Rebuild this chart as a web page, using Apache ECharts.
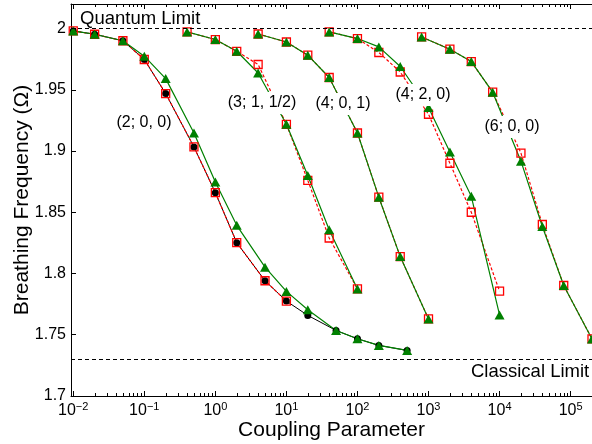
<!DOCTYPE html>
<html>
<head>
<meta charset="utf-8">
<script src="https://cdn.jsdelivr.net/npm/echarts@6/dist/echarts.min.js"></script>
<style>
html, body { margin: 0; padding: 0; background: #fff; }
#chart { width: 592px; height: 444px; }
</style>
</head>
<body>
<div id="chart"></div>
<script>
// (2; 0, 0)
var x200 = [0.01, 0.02, 0.05, 0.1, 0.2, 0.5, 1, 2, 5, 10, 20, 50, 100, 200, 500];
var black200 = [1.998, 1.9953, 1.990, 1.9747, 1.9469, 1.9033, 1.866, 1.8252, 1.7941, 1.7775, 1.7658, 1.7535, 1.7467, 1.7413, 1.7372];
var green200 = [1.998, 1.9953, 1.990, 1.9774, 1.9591, 1.9147, 1.8747, 1.8393, 1.8052, 1.7854, 1.7704, 1.7535, 1.7467, 1.7413, 1.7372];
var red200 = [1.998, 1.9953, 1.990, 1.9747, 1.9469, 1.9033, 1.866, 1.8252, 1.7941, 1.7775];

// (3; 1, 1/2)
var x311 = [0.4, 1, 2, 4, 10, 20, 40, 100];
var red311 = [1.9972, 1.991, 1.9814, 1.9706, 1.9218, 1.876, 1.829, 1.7874];
var green311 = [1.9972, 1.991, 1.9814, 1.9637, 1.9218, 1.880, 1.8357, 1.7874];

// (4; 0, 1)
var x401 = [4, 10, 20, 40, 100, 200, 400, 1000];
var red401 = [1.9955, 1.989, 1.9782, 1.960, 1.9147, 1.8623, 1.8138, 1.7629];
var green401 = [1.9955, 1.989, 1.9782, 1.960, 1.9147, 1.8623, 1.8138, 1.7629];

// (4; 2, 0)
var x420 = [40, 100, 200, 400, 1000, 2000, 4000, 10000];
var red420 = [1.9972, 1.9918, 1.9804, 1.9645, 1.930, 1.890, 1.850, 1.7856];
var green420 = [1.9972, 1.9918, 1.985, 1.969, 1.9355, 1.8992, 1.863, 1.7662];

// (6; 0, 0)
var x600 = [800, 2000, 4000, 8000, 20000, 40000, 80000, 200000];
var red600 = [1.9931, 1.9831, 1.973, 1.948, 1.8983, 1.840, 1.7902, 1.7466];
var green600 = [1.9931, 1.9831, 1.973, 1.948, 1.8917, 1.8384, 1.7902, 1.7466];

var curveNames = ['(2; 0, 0)', '(3; 1, 1/2)', '(4; 0, 1)', '(4; 2, 0)', '(6; 0, 0)'];
var quantumLimit = 2;
var classicalLimit = 1.732;

var xMin = 0.0093, xMax = 200000;
var yMin = 1.7, yMax = 2.02;
var FONT = '"Liberation Sans", Arial, Helvetica, sans-serif';

var chart = echarts.init(document.getElementById('chart'));

function pairs(xs, ys) {
    return ys.map(function (y, i) { return [xs[i], y]; });
}

function blackSeries(xs, ys) {
    return {
        type: 'line', data: pairs(xs, ys),
        symbol: 'circle', symbolSize: 7,
        itemStyle: { color: '#000' },
        lineStyle: { color: '#000', width: 1 }
    };
}
function redSeries(xs, ys) {
    return {
        type: 'line', data: pairs(xs, ys),
        symbol: 'rect', symbolSize: 8,
        itemStyle: { color: 'rgba(0,0,0,0)', borderColor: '#ff0000', borderWidth: 1.3 },
        lineStyle: { color: '#ff0000', width: 1.2, type: [3, 2] }
    };
}
function greenSeries(xs, ys) {
    return {
        type: 'line', data: pairs(xs, ys),
        symbol: 'triangle', symbolSize: [10, 9],
        itemStyle: { color: '#008000' },
        lineStyle: { color: '#008000', width: 1.2 }
    };
}

// minor ticks of the log axis (2..9 x 10^k)
var minorTicks = [];
for (var k = -2; k <= 5; k++) {
    for (var m = 2; m <= 9; m++) {
        var v = m * Math.pow(10, k);
        if (v < xMax) minorTicks.push([v, yMin]);
    }
}

var series = [
    blackSeries(x200, black200),
    redSeries(x200.slice(0, red200.length), red200),
    greenSeries(x200, green200),
    redSeries(x311, red311), greenSeries(x311, green311),
    redSeries(x401, red401), greenSeries(x401, green401),
    redSeries(x420, red420), greenSeries(x420, green420),
    redSeries(x600, red600), greenSeries(x600, green600)
];

series[0].markLine = {
    silent: true,
    symbol: ['none', 'none'],
    label: { show: false },
    lineStyle: { color: '#000', width: 1, type: [4, 3] },
    data: [{ yAxis: quantumLimit }, { yAxis: classicalLimit }]
};

series.push({
    type: 'custom',
    silent: true,
    z: 10,
    data: minorTicks,
    renderItem: function (params, api) {
        var b = api.coord([api.value(0), yMin]);
        var t = api.coord([api.value(0), yMax]);
        var px = Math.round(b[0]) + 0.5;
        return {
            type: 'group',
            children: [
                { type: 'line', shape: { x1: px, y1: b[1], x2: px, y2: b[1] - 3 }, style: { stroke: '#000', lineWidth: 1 } },
                { type: 'line', shape: { x1: px, y1: t[1], x2: px, y2: t[1] + 3 }, style: { stroke: '#000', lineWidth: 1 } }
            ]
        };
    }
});

function curveLabel(text, x, y) {
    return {
        type: 'text', z: 100, x: x, y: y,
        style: {
            text: text, font: '16px ' + FONT, fill: '#000',
            align: 'center', verticalAlign: 'middle',
            backgroundColor: '#fff', padding: [3, 3]
        }
    };
}

var option = {
    animation: false,
    backgroundColor: '#fff',
    grid: { left: 71, right: 0, top: 4, bottom: 48, containLabel: false, outerBoundsMode: 'none' },
    xAxis: [{
        type: 'log', logBase: 10, min: xMin, max: xMax,
        name: 'Coupling Parameter', nameLocation: 'middle', nameGap: 24, nameMoveOverlap: false,
        nameTextStyle: { fontSize: 21, color: '#000', fontFamily: FONT },
        axisLine: { lineStyle: { color: '#000', width: 1 } },
        axisTick: { inside: true, length: 5, lineStyle: { color: '#000' } },
        splitLine: { show: false },
        axisLabel: {
            margin: 5, color: '#000', fontFamily: FONT,
            formatter: function (val) {
                var e = Math.log10(val);
                var r = Math.round(e);
                if (Math.abs(e - r) > 1e-6) return '';
                return '{b|10}{e|' + (r < 0 ? '\u2212' + (-r) : r) + '}';
            },
            rich: {
                b: { fontSize: 16, lineHeight: 20, color: '#000', fontFamily: FONT },
                e: { fontSize: 11, lineHeight: 10, verticalAlign: 'top', color: '#000', fontFamily: FONT }
            }
        }
    }, {
        type: 'log', logBase: 10, min: xMin, max: xMax, position: 'top',
        axisLine: { lineStyle: { color: '#000', width: 1 } },
        axisTick: { inside: true, length: 5, lineStyle: { color: '#000' } },
        axisLabel: { show: false },
        splitLine: { show: false }
    }],
    yAxis: {
        type: 'value', min: yMin, max: yMax, interval: 0.05,
        name: 'Breathing Frequency (\u03A9)', nameLocation: 'middle', nameGap: 38, nameMoveOverlap: false,
        nameTextStyle: { fontSize: 21, color: '#000', fontFamily: FONT },
        axisLine: { show: true, lineStyle: { color: '#000', width: 1 } },
        axisTick: { show: true, inside: true, length: 5, lineStyle: { color: '#000' } },
        splitLine: { show: false },
        axisLabel: { margin: 5, fontSize: 16, color: '#000', fontFamily: FONT, showMaxLabel: false }
    },
    graphic: [
        { type: 'text', z: 100, x: 80, y: 19, style: { text: 'Quantum Limit', font: '18.5px ' + FONT, fill: '#000', align: 'left', verticalAlign: 'middle' } },
        { type: 'text', z: 100, x: 471, y: 372, style: { text: 'Classical Limit', font: '18.5px ' + FONT, fill: '#000', align: 'left', verticalAlign: 'middle' } },
        curveLabel(curveNames[0], 144, 123),
        curveLabel(curveNames[1], 262, 103),
        curveLabel(curveNames[2], 343, 104),
        curveLabel(curveNames[3], 423, 95),
        curveLabel(curveNames[4], 512, 127)
    ],
    series: series
};

chart.setOption(option);
</script>
</body>
</html>
